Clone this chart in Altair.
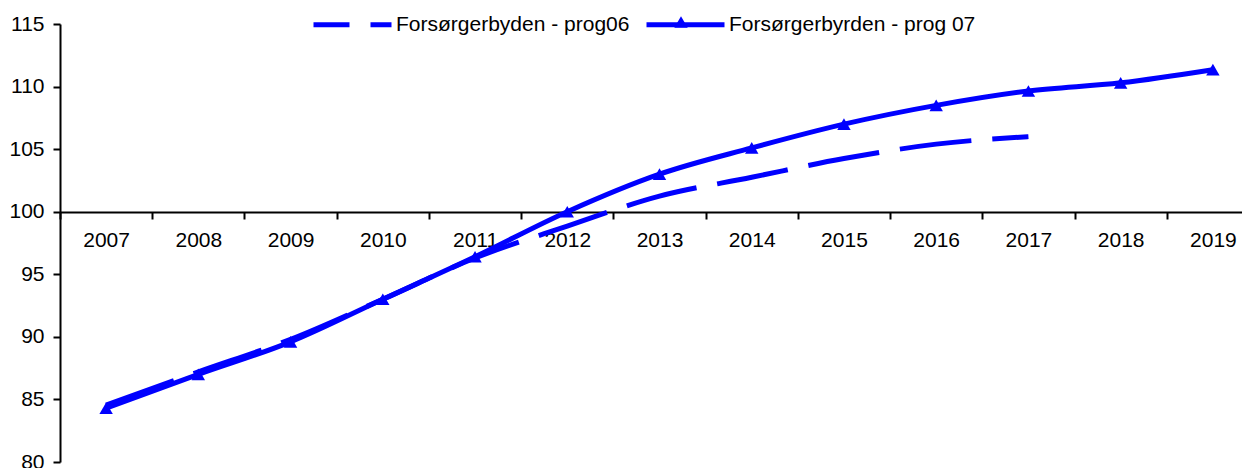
import altair as alt
import pandas as pd

years = [str(y) for y in range(2007, 2020)]
S06 = "Forsørgerbyden - prog06"
S07 = "Forsørgerbyrden - prog 07"
prog06 = [84.55, 87.2, 89.8, 93.0, 96.3, 98.85, 101.25, 102.75, 104.25, 105.4, 106.0]
prog07 = [84.3, 87.0, 89.6, 93.0, 96.4, 100.0, 103.0, 105.1, 107.0, 108.5, 109.65, 110.3, 111.35]
y_ticks = [80, 85, 90, 95, 100, 105, 110, 115]

rows = []
for yr, v in zip(years, prog06):
    rows.append({"year": yr, "value": v, "series": S06})
for yr, v in zip(years, prog07):
    rows.append({"year": yr, "value": v, "series": S07})
df = pd.DataFrame(rows)

BLUE = "#0000FF"
FONT = "Liberation Sans"
FS = 21

x = alt.X(
    "year:O",
    sort=years,
    scale=alt.Scale(type="band", paddingInner=0, paddingOuter=0, range=[0, 1199]),
    axis=alt.Axis(
        title=None, offset=-250, tickBand="extent", labelAngle=0,
        labelPadding=10, labelFontSize=FS,
    ),
)
y = alt.Y(
    "value:Q",
    scale=alt.Scale(domain=[80, 115], nice=False, zero=False),
    axis=alt.Axis(title=None, values=y_ticks, labelPadding=9, labelFontSize=FS),
)

base = alt.Chart(df)

# invisible layer that only carries the line-style legend
legend_layer = base.mark_line(opacity=0, strokeWidth=5, color=BLUE).encode(
    x=x,
    y=y,
    strokeDash=alt.StrokeDash(
        "series:N",
        scale=alt.Scale(domain=[S06, S07], range=[[36, 21], [1, 0]]),
        legend=alt.Legend(
            title=None, orient="none", legendX=251, legendY=-41,
            direction="horizontal", symbolType="stroke", symbolSize=6084,
            symbolStrokeWidth=5, symbolStrokeColor=BLUE, symbolOpacity=1,
            labelFontSize=FS, labelFont=FONT, labelColor="black",
            labelOffset=2, columnPadding=6, labelLimit=400,
        ),
    ),
)

line06 = base.transform_filter(alt.datum.series == S06).mark_line(
    interpolate="monotone", strokeWidth=5, color=BLUE, strokeCap="butt",
    strokeDash=[72, 21],
).encode(x=x, y=y)

line07 = base.transform_filter(alt.datum.series == S07).mark_line(
    interpolate="monotone", strokeWidth=5, color=BLUE,
).encode(x=x, y=y)

points = base.transform_filter(alt.datum.series == S07).mark_point(
    filled=True, size=180, color=BLUE, opacity=1
).encode(
    x=x, y=y,
    shape=alt.Shape(
        "series:N",
        scale=alt.Scale(domain=[S07], range=["triangle-up"]),
        legend=alt.Legend(
            title=None, orient="none", legendX=614, legendY=-9,
            symbolSize=180, symbolFillColor=BLUE, symbolStrokeColor=BLUE,
            symbolStrokeWidth=0, labelExpr="''", labelFontSize=1,
        ),
    ),
)

chart = alt.layer(legend_layer, line06, line07, points).properties(
    width=1182, height=438,
    autosize=alt.AutoSizeParams(type="none"),
    padding={"left": 52, "top": 16, "right": 0, "bottom": 6},
).configure_view(stroke=None).configure_axis(
    domainColor="black", domainWidth=2, tickColor="black", tickWidth=2,
    tickSize=7, labelColor="black", labelFont=FONT, labelFontSize=FS, grid=False,
)

chart.save("out.html", embed_options={"renderer": "svg", "actions": False})
